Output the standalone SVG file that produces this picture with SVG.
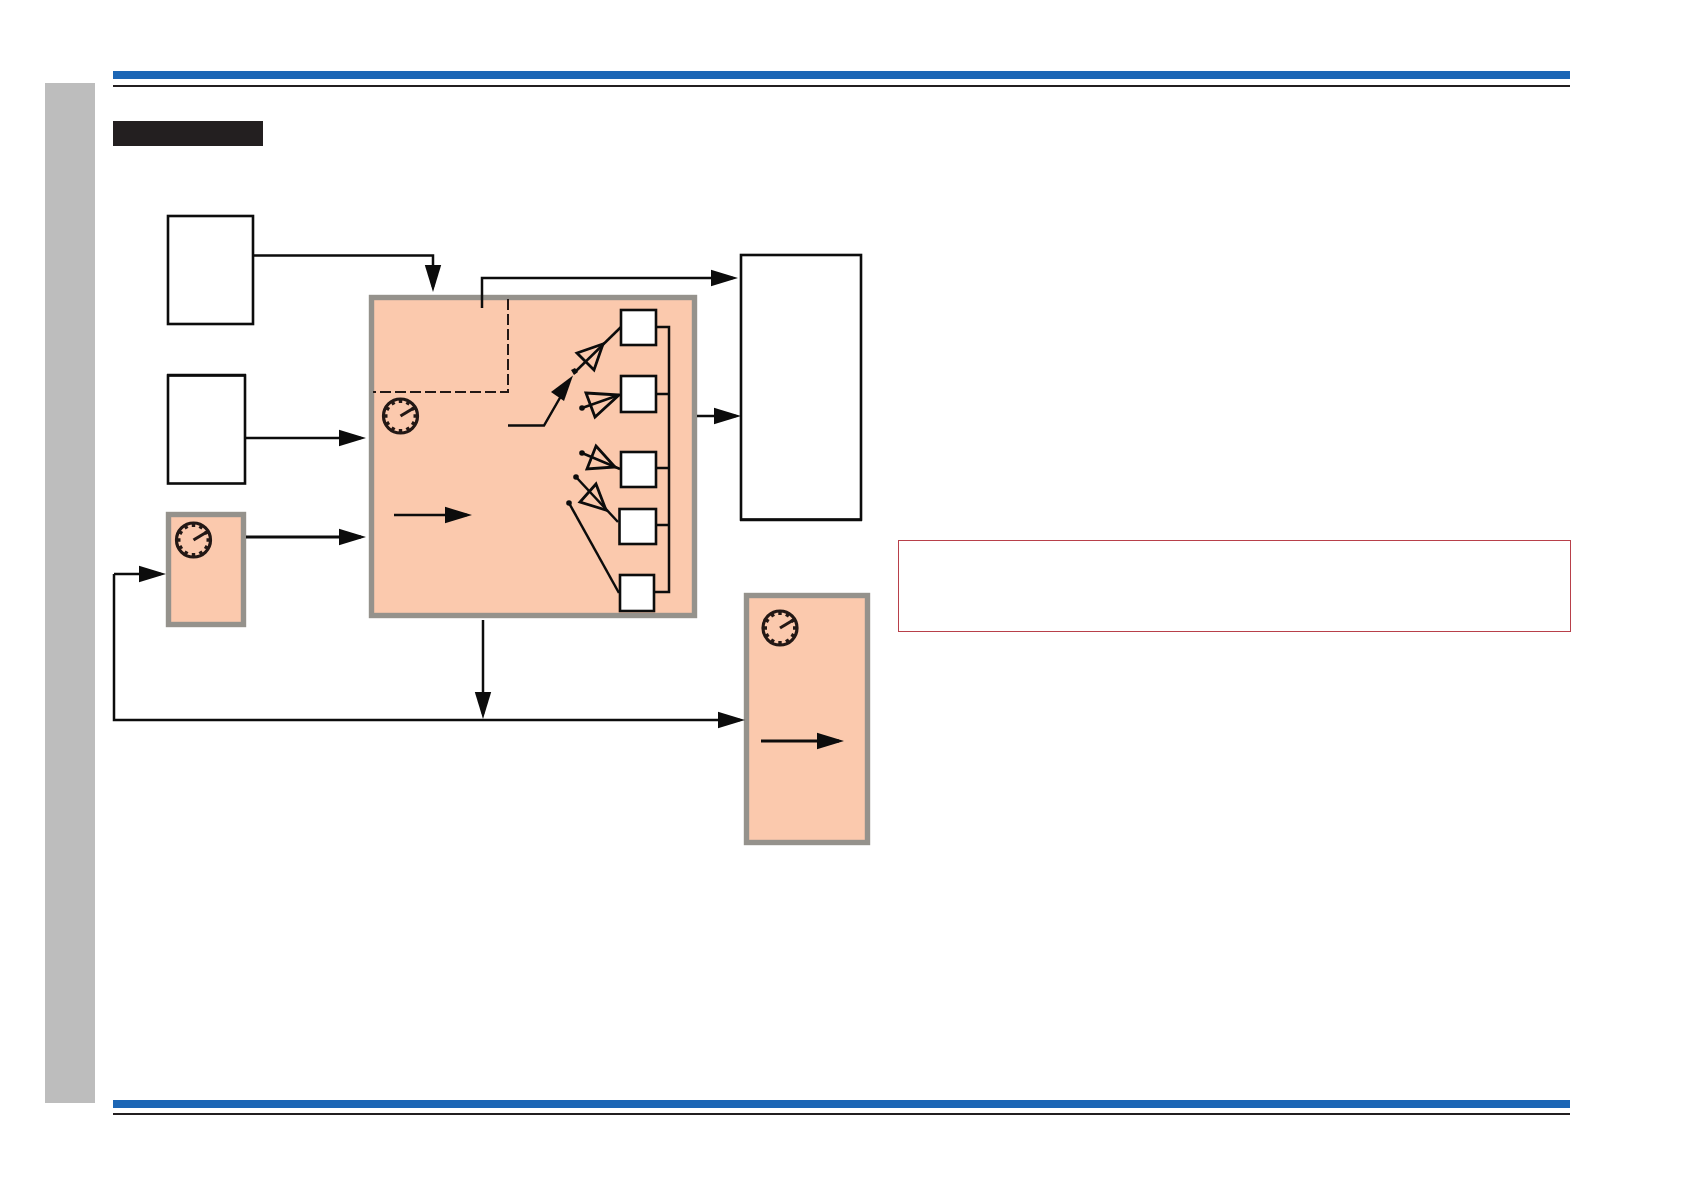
<svg xmlns="http://www.w3.org/2000/svg" width="1684" height="1190" viewBox="0 0 1684 1190">
<style>
.box{fill:#fff;stroke:#0c0c0c;stroke-width:2.600}
.pan{fill:#fbc9ad;stroke:#95928c;stroke-width:5.400}
.ln{fill:none;stroke:#0c0c0c;stroke-width:2.500}
.hv{fill:none;stroke:#0c0c0c;stroke-width:3}
.tri{fill:none;stroke:#0c0c0c;stroke-width:2.800;stroke-linejoin:miter}
.dash{fill:none;stroke:#231815;stroke-width:2;stroke-dasharray:11 4}
.blue{fill:#1c66b5}
.blk{fill:#231f20}
.dot{fill:#0c0c0c}
.ck{fill:none;stroke:#231815}
</style>
<defs>
<marker id="ah" markerUnits="userSpaceOnUse" markerWidth="28" markerHeight="18" viewBox="0 0 28 18" refX="22" refY="9" orient="auto"><path d="M0 .8L27 9L0 17.200z" fill="#0c0c0c"/></marker>
<g id="clock">
<circle class="ck" r="17" stroke-width="3.200"/>
<path class="ck" stroke-width="3.400" d="M0-17V-13M8.500-14.700L6.500-11.300M14.700-8.500L11.300-6.500M17 0H13M14.700 8.500L11.300 6.500M8.500 14.700L6.500 11.300M0 17V13M-8.500 14.700L-6.500 11.300M-14.700 8.500L-11.300 6.500M-17 0H-13M-14.700-8.500L-11.300-6.500M-8.500-14.700L-6.500-11.300"/>
<path class="ck" stroke-width="3.200" d="M0 0L15-9"/>
</g>
</defs>
<rect width="1684" height="1190" fill="#fff"/>
<g id="page">
<rect x="45" y="83" width="50" height="1020" fill="#bdbdbd"/>
<rect class="blue" x="113" y="71" width="1457" height="8"/>
<rect class="blk" x="113" y="85" width="1457" height="2"/>
<rect class="blue" x="113" y="1100" width="1457" height="8"/>
<rect class="blk" x="113" y="1113" width="1457" height="2"/>
<rect class="blk" x="113" y="121" width="150" height="25"/>
<rect x="898.500" y="540.500" width="672" height="91" fill="#fff" stroke="#b8404a" stroke-width="1"/>
</g>
<g id="node-a"><rect class="box" x="168" y="216" width="85" height="108"/></g>
<g id="node-b"><rect class="box" x="168" y="375.500" width="77" height="108"/><path class="ln" d="M167 375H246"/></g>
<g id="node-timer"><rect class="pan" x="168.500" y="514.500" width="75" height="110"/><use href="#clock" x="193.500" y="540"/></g>
<g id="node-main">
<rect class="pan" x="371.500" y="297.500" width="323" height="318"/>
<path class="dash" d="M508 299V392H373"/>
<use href="#clock" x="400.500" y="416"/>
</g>
<g id="node-d"><rect class="box" x="741" y="255" width="120" height="264.500"/><path class="ln" d="M740 520H862"/></g>
<g id="node-c"><rect class="pan" x="746.500" y="595.500" width="121" height="247"/><use href="#clock" x="780" y="628"/></g>
<g id="connectors">
<path class="ln" d="M253 255.500H433V287" marker-end="url(#ah)"/>
<path class="ln" d="M482 308V278H733" marker-end="url(#ah)"/>
<path class="ln" d="M245 438H361" marker-end="url(#ah)"/>
<path class="hv" d="M246 537H361" marker-end="url(#ah)"/>
<path class="ln" d="M114 574V720H740" marker-end="url(#ah)"/>
<path class="ln" d="M114 574H161" marker-end="url(#ah)"/>
<path class="ln" d="M483 620V714" marker-end="url(#ah)"/>
<path class="ln" d="M697 416H736" marker-end="url(#ah)"/>
<path class="ln" d="M394 515H467" marker-end="url(#ah)"/>
<path class="hv" d="M761 741H839" marker-end="url(#ah)"/>
</g>
<g id="switches">
<path class="ln" d="M508 425.500H544L561 396"/>
<path class="dot" d="M573 375.500L551 392L564 401z"/>
<path class="ln" d="M574 373L621 327"/>
<path class="dot" d="M571 370l4-2 3 4-4 3z"/>
<path class="tri" d="M577 353L603 344L594 370z"/>
<path class="ln" d="M582 408L619 395"/><circle class="dot" cx="582" cy="408" r="2.800"/>
<path class="tri" d="M586 393L619 395L595 417z"/>
<path class="ln" d="M582 453L620 469"/><circle class="dot" cx="582" cy="453" r="2.800"/>
<path class="tri" d="M596 446L615 467L587 469z"/>
<path class="ln" d="M576 477L618 522"/><circle class="dot" cx="576" cy="477" r="2.800"/>
<path class="tri" d="M596 484L606 510L580 502z"/>
<path class="ln" d="M569 503L619 593"/><circle class="dot" cx="569" cy="503" r="2.800"/>
<path class="ln" d="M656 327H669V592H654M656 394H669M656 468H669M656 525H669"/>
</g>
<g id="contact-1"><rect class="box" x="621" y="310" width="35" height="35"/></g>
<g id="contact-2"><rect class="box" x="621" y="376" width="35" height="36"/></g>
<g id="contact-3"><rect class="box" x="621" y="452" width="35" height="35"/></g>
<g id="contact-4"><rect class="box" x="619.500" y="509" width="36.500" height="35"/></g>
<g id="contact-5"><rect class="box" x="620" y="575" width="34" height="36"/></g>
</svg>
